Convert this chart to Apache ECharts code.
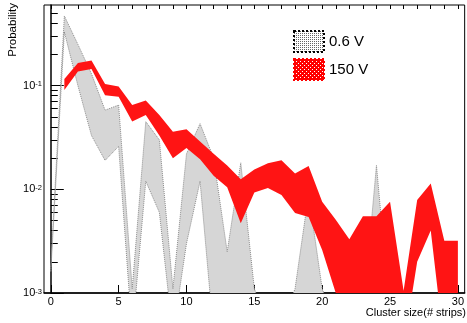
<!DOCTYPE html>
<html>
<head>
<meta charset="utf-8">
<script src="https://cdn.jsdelivr.net/npm/echarts@6/dist/echarts.min.js"></script>
<style>
    html, body { margin: 0; padding: 0; background: #fff; }
    #chart { width: 467px; height: 323px; }
</style>
</head>
<body>
<div id="chart"></div>
<script>
// cluster size (bin centers)
var xGrey = [0, 1, 2, 3, 4, 5, 6, 7, 8, 9, 10, 11, 12, 13, 14, 15, 16, 17, 18, 19, 20, 21, 22, 23, 24, 25, 26, 27, 28, 29, 30];
var xRed = [1, 2, 3, 4, 5, 6, 7, 8, 9, 10, 11, 12, 13, 14, 15, 16, 17, 18, 19, 20, 21, 22, 23, 24, 25, 26, 27, 28, 29, 30];

// 0.6 V band (upper / lower edge)
var greyUp = [0.0018, 0.47, 0.25, 0.13, 0.058, 0.065, 0.0011, 0.045, 0.03, 0.0011, 0.022, 0.043, 0.02, 0.0025, 0.018, 0.0011,
    0.0005, 0.0005, 0.0011, 0.009, 0.0011, 0.0005, 0.0005, 0.0006, 0.017, 0.0006, 0.0005, 0.0005, 0.0005, 0.0005, 0.0005];
var greyLow = [0.0016, 0.33, 0.1, 0.033, 0.019, 0.026, 0.0004, 0.012, 0.006, 0.0004, 0.003, 0.012, 0.0004, 0.0004, 0.0004, 0.0004,
    0.0004, 0.0004, 0.0004, 0.0004, 0.0004, 0.0004, 0.0004, 0.0004, 0.0004, 0.0004, 0.0004, 0.0004, 0.0004, 0.0004, 0.0004];

// 150 V band (upper / lower edge)
var redUp = [0.116, 0.165, 0.175, 0.104, 0.098, 0.065, 0.072, 0.052, 0.036, 0.038, 0.029, 0.022, 0.017, 0.0125, 0.0155,
    0.0178, 0.0191, 0.0142, 0.0168, 0.0076, 0.0051, 0.0033, 0.0055, 0.0055, 0.0076, 0.00105, 0.0079, 0.0114, 0.0032, 0.0032];
var redLow = [0.091, 0.137, 0.145, 0.081, 0.078, 0.045, 0.052, 0.033, 0.020, 0.025, 0.0195, 0.0135, 0.0105, 0.0047, 0.0093,
    0.0103, 0.0088, 0.0059, 0.0054, 0.0026, 0.001, 0.0003, 0.0003, 0.0003, 0.0003, 0.0003, 0.002, 0.004, 0.0003, 0.0003];

var xMajor = [0, 5, 10, 15, 20, 25, 30];
var xMinor = [0, 1, 2, 3, 4, 5, 6, 7, 8, 9, 10, 11, 12, 13, 14, 15, 16, 17, 18, 19, 20, 21, 22, 23, 24, 25, 26, 27, 28, 29, 30];
var yMajor = [0.001, 0.01, 0.1];
var yMinor = [0.002, 0.003, 0.004, 0.005, 0.006, 0.007, 0.008, 0.009,
    0.02, 0.03, 0.04, 0.05, 0.06, 0.07, 0.08, 0.09, 0.2, 0.3, 0.4, 0.5];

var FONT = "'Liberation Sans', Arial, Helvetica, sans-serif";

// small canvas tiles for the legend boxes (ROOT-like hatch patterns)
function makePattern(size, bg, color, pixels) {
    var c = document.createElement('canvas');
    c.width = size;
    c.height = size;
    var ctx = c.getContext('2d');
    ctx.fillStyle = bg;
    ctx.fillRect(0, 0, size, size);
    ctx.fillStyle = color;
    for (var i = 0; i < pixels.length; i++) {
        ctx.fillRect(pixels[i][0], pixels[i][1], 1, 1);
    }
    return { image: c, repeat: 'repeat' };
}

var greyFill = makePattern(2, '#ffffff', '#666666', [[0, 0]]);
var redFill = makePattern(4, '#ff0000', '#ffffff', [[0, 0], [2, 2]]);

function bandData(xs, up, low) {
    var out = [];
    for (var i = 0; i < xs.length; i++) out.push([xs[i], up[i], low[i]]);
    return out;
}

// whole band as one polygon: upper edge left->right, lower edge back
function bandPoints(api, xs, up, low) {
    var pts = [];
    for (var i = 0; i < xs.length; i++) pts.push(api.coord([xs[i], up[i]]));
    for (var j = xs.length - 1; j >= 0; j--) pts.push(api.coord([xs[j], low[j]]));
    return pts;
}

var myChart = echarts.init(document.getElementById('chart'), null, { renderer: 'canvas' });

myChart.setOption({
    backgroundColor: '#fff',
    animation: false,
    textStyle: { fontFamily: FONT },
    grid: {
        left: 44,
        right: -2,
        top: 5,
        bottom: 30,
        show: true,
        borderColor: '#000',
        borderWidth: 1
    },
    legend: {
        orient: 'vertical',
        left: 288,
        top: 25,
        itemWidth: 30,
        itemHeight: 21,
        itemGap: 5,
        textStyle: { fontSize: 15, color: '#000', fontFamily: FONT },
        data: [
            {
                name: '0.6 V', icon: 'rect',
                itemStyle: { color: greyFill, borderColor: '#000', borderWidth: 2, borderType: 'dotted' }
            },
            {
                name: '150 V', icon: 'rect',
                itemStyle: { color: redFill, borderColor: '#ff0000', borderWidth: 2, borderType: 'dotted' }
            }
        ]
    },
    xAxis: [
        {
            type: 'value',
            min: -0.5,
            max: 30.5,
            axisLine: { lineStyle: { color: '#000', width: 1.5 } },
            axisTick: { inside: true, length: 8, customValues: xMajor, lineStyle: { color: '#000' } },
            axisLabel: { customValues: xMajor, margin: 3, fontSize: 11, color: '#000', fontFamily: FONT },
            splitLine: { show: false }
        },
        {
            type: 'value',
            min: -0.5,
            max: 30.5,
            axisLine: { show: false },
            axisTick: { inside: true, length: 4, customValues: xMinor, lineStyle: { color: '#000' } },
            axisLabel: { show: false },
            splitLine: { show: false }
        }
    ],
    yAxis: [
        {
            type: 'log',
            min: 0.001,
            max: 0.6,
            axisLine: { show: true, lineStyle: { color: '#000', width: 1.5 } },
            axisTick: { inside: true, length: 13, customValues: yMajor, lineStyle: { color: '#000' } },
            axisLabel: {
                customValues: yMajor,
                margin: 2,
                formatter: function (v) {
                    return '{b|10}{s|' + Math.round(Math.log10(v)) + '}';
                },
                rich: {
                    b: { fontSize: 11, color: '#000', fontFamily: FONT },
                    s: { fontSize: 7.5, color: '#000', fontFamily: FONT, verticalAlign: 'top' }
                }
            },
            splitLine: { show: false }
        },
        {
            type: 'log',
            min: 0.001,
            max: 0.6,
            position: 'left',
            axisLine: { show: false },
            axisTick: { inside: true, length: 7, customValues: yMinor, lineStyle: { color: '#000' } },
            axisLabel: { show: false },
            splitLine: { show: false }
        }
    ],
    graphic: [
        {
            type: 'text',
            x: 12.5,
            y: 3,
            rotation: Math.PI / 2,
            style: { text: 'Probability', fontSize: 11.5, fontFamily: FONT, fill: '#000', align: 'right', verticalAlign: 'middle' }
        },
        {
            type: 'text',
            x: 466,
            y: 313,
            style: { text: 'Cluster size(# strips)', fontSize: 11, fontFamily: FONT, fill: '#000', align: 'right', verticalAlign: 'middle' }
        }
    ],
    series: [
        {
            name: '0.6 V',
            type: 'custom',
            clip: true,
            silent: true,
            color: '#888',
            data: bandData(xGrey, greyUp, greyLow),
            renderItem: function (params, api) {
                if (params.dataIndex !== 0) return null;
                return {
                    type: 'polygon',
                    shape: { points: bandPoints(api, xGrey, greyUp, greyLow) },
                    style: { fill: '#d6d6d6', stroke: '#8c8c8c', lineWidth: 1, lineDash: [1, 1] }
                };
            }
        },
        {
            name: '150 V',
            type: 'custom',
            clip: true,
            silent: true,
            color: '#ff0000',
            data: bandData(xRed, redUp, redLow),
            renderItem: function (params, api) {
                if (params.dataIndex !== 0) return null;
                return {
                    type: 'polygon',
                    shape: { points: bandPoints(api, xRed, redUp, redLow) },
                    style: { fill: '#ff1414', stroke: null }
                };
            }
        }
    ]
});
</script>
</body>
</html>
